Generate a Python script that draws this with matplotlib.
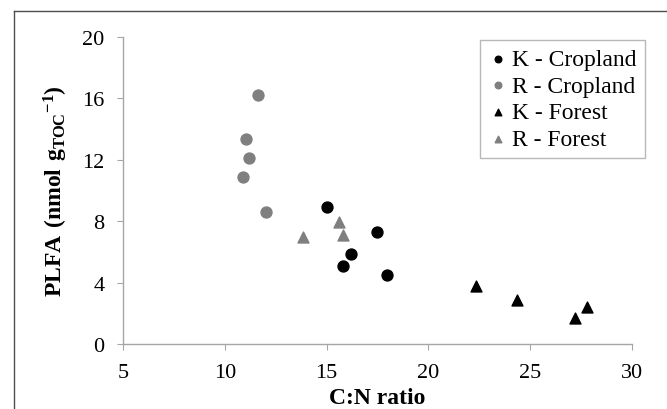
import matplotlib
matplotlib.use("Agg")
import matplotlib.pyplot as plt

plt.rcParams["font.family"] = "Liberation Serif"
plt.rcParams["mathtext.fontset"] = "custom"
plt.rcParams["mathtext.rm"] = "Liberation Serif"
plt.rcParams["mathtext.bf"] = "Liberation Serif:bold"

# ── Data ────────────────────────────────────────────────────────────────────
k_crop_x = [15.03, 17.48, 16.18, 15.82, 17.95]
k_crop_y = [8.9, 7.3, 5.86, 5.06, 4.5]
r_crop_x = [11.65, 11.03, 11.2, 10.88, 12.01]
r_crop_y = [16.22, 13.34, 12.12, 10.86, 8.58]
k_for_x = [22.34, 24.34, 27.2, 27.79]
k_for_y = [3.8, 2.89, 1.67, 2.43]
r_for_x = [13.83, 15.63, 15.79]
r_for_y = [6.99, 7.93, 7.1]

GRAY = "#7f7f7f"
AXIS = "#a6a6a6"

fig = plt.figure(figsize=(6.67, 4.10), dpi=100)
fig.patch.set_facecolor("white")

# outer frame (only top and left visible in reference)
fig.add_artist(plt.Line2D([14 / 667, 14 / 667], [0, 1 - 12 / 410],
                          transform=fig.transFigure, color="#4d4d4d", linewidth=1))
fig.add_artist(plt.Line2D([14 / 667, 1], [1 - 12 / 410, 1 - 12 / 410],
                          transform=fig.transFigure, color="#4d4d4d", linewidth=1))

ax = fig.add_axes([123 / 667, 1 - 345 / 410, 509 / 667, 307 / 410])
ax.scatter(k_crop_x, k_crop_y, s=62, marker="o", color="black", label="K - Cropland", zorder=3)
ax.scatter(r_crop_x, r_crop_y, s=62, marker="o", color=GRAY, label="R - Cropland", zorder=3)
ax.scatter(k_for_x, k_for_y, s=62, marker="^", color="black", label="K - Forest", zorder=3)
ax.scatter(r_for_x, r_for_y, s=62, marker="^", color=GRAY, label="R - Forest", zorder=3)

ax.set_xlim(5, 30)
ax.set_ylim(0, 20)
ax.set_xticks(range(5, 31, 5))
ax.set_yticks(range(0, 21, 4))
for side in ("top", "right"):
    ax.spines[side].set_visible(False)
for side in ("left", "bottom"):
    ax.spines[side].set_color(AXIS)
    ax.spines[side].set_linewidth(1)
ax.tick_params(direction="out", length=4.5, color=AXIS, labelsize=16, pad=9)

ax.set_xlabel("C:N ratio", fontsize=17, fontweight="bold", labelpad=4)
ax.set_ylabel(r"$\mathbf{PLFA\ (nmol\ g_{TOC}{}^{-1})}$", fontsize=17, labelpad=9)

leg = ax.legend(loc="upper right", bbox_to_anchor=(645 / 667, 1 - 41 / 410),
                bbox_transform=fig.transFigure, fontsize=17, markerscale=0.6,
                handlelength=0.8, handletextpad=0.2, labelspacing=0.22,
                borderpad=0.35, fancybox=False, frameon=True, borderaxespad=0)
leg.get_frame().set_edgecolor(AXIS)
leg.get_frame().set_linewidth(1)

fig.savefig("out.png", dpi=100)
